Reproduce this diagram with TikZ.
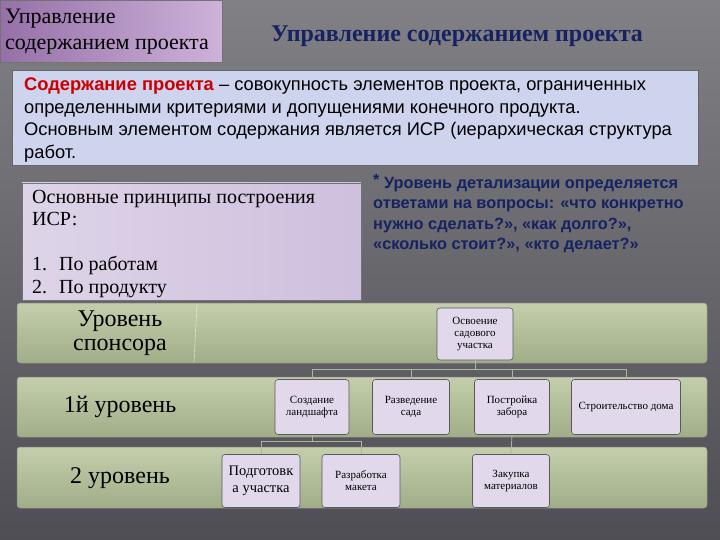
\documentclass[tikz,border=0pt]{standalone}
\usepackage{fontspec}
\setmainfont{Liberation Serif}
\newfontfamily\arialfont{Liberation Sans}
\usetikzlibrary{calc}

\definecolor{bgtop}{RGB}{128,128,133}
\definecolor{bgbot}{RGB}{78,78,84}
\definecolor{hdrleft}{RGB}{150,112,168}
\definecolor{hdrright}{RGB}{205,178,218}
\definecolor{navy}{RGB}{22,34,98}
\definecolor{defblue}{RGB}{206,211,238}
\definecolor{lilac}{RGB}{222,212,232}
\definecolor{lilacdark}{RGB}{206,192,222}
\definecolor{bandtop}{RGB}{196,206,172}
\definecolor{bandbot}{RGB}{160,174,136}
\definecolor{boxfill}{RGB}{226,216,236}
\definecolor{wire}{RGB}{170,182,160}

\tikzset{
	wbsbox/.style={draw=black!65, fill=boxfill, rounded corners=3pt, line width=0.6pt,
		align=center, inner sep=1pt, font=\fontsize{11}{12}\selectfont},
	wbs/.style={draw=wire, line width=0.8pt},
	band/.style={draw=black!45, line width=0.5pt, rounded corners=3pt, top color=bandtop, bottom color=bandbot},
	lvlname/.style={align=center, font=\fontsize{24}{24}\selectfont}
}

\begin{document}
\begin{tikzpicture}[x=1pt, y=-1pt]
	%%%%% START %%%%%
	
	\shade[top color=bgtop, bottom color=bgbot] (0,0) rectangle (720,540);
	\useasboundingbox (0,0) rectangle (720,540);
	
	% header
	\shade[left color=hdrleft, right color=hdrright, draw=black!55] (0,0) rectangle (222,62);
	\node[anchor=north west, align=left, inner sep=0pt, font=\fontsize{22}{26}\selectfont] (hdr) at (5,9) {Управление\\содержанием проекта};
	\node[text=navy, font=\fontsize{24}{26}\bfseries\selectfont] (title) at (457,36) {Управление содержанием проекта};
	
	% definition
	\draw[fill=defblue, draw=black!60] (12,70) rectangle (698,165);
	\node[anchor=north west, align=left, inner sep=0pt, font=\arialfont\fontsize{18.3}{22.5}\selectfont] (defbox) at (24,78)
		{\textcolor{red!80!black}{\textbf{Содержание проекта}} – совокупность элементов проекта, ограниченных\\
		определенными критериями и допущениями конечного продукта.\\
		Основным элементом содержания является ИСР (иерархическая структура\\
		работ.};
	
	% principles
	\shade[left color=lilac, right color=lilacdark, draw=black!55] (22,183) rectangle (361,300);
	\node[anchor=north west, align=left, inner sep=0pt, font=\fontsize{20}{22}\selectfont] (prin) at (32,190)
		{Основные принципы построения\\ИСР:};
	\node[anchor=north west, align=left, inner sep=0pt, font=\fontsize{20}{23}\selectfont] (prinlist) at (32,256)
		{1.\hspace{0.6em}По работам\\2.\hspace{0.6em}По продукту};
	
	% note
	\node[anchor=north west, align=left, inner sep=0pt, text=navy, font=\arialfont\fontsize{16.3}{20.5}\bfseries\selectfont] (note) at (373,174)
		{\raisebox{3pt}{*} Уровень детализации определяется\\
		ответами на вопросы: «что конкретно\\
		нужно сделать?», «как долго?»,\\
		«сколько стоит?», «кто делает?»};
	
	% levels
	\draw[band] (17,303) rectangle (707,363);
	\draw[band] (17,377) rectangle (707,437);
	\draw[band] (17,447) rectangle (707,508);
	\draw[white!75!bandbot, line width=0.4pt] (197,303) -- (194,363);
	
	\node[lvlname] (lvl0) at (120,333) {Уровень\\спонсора};
	\node[lvlname] (lvl1) at (120,407) {1й уровень};
	\node[lvlname] (lvl2) at (120,478) {2 уровень};
	
	% wbs
	\node[wbsbox, minimum width=76pt, minimum height=52pt] (root) at (475,334) {Освоение\\садового\\участка};
	
	\node[wbsbox, minimum width=74pt, minimum height=55pt] (land) at (312,407) {Создание\\ландшафта};
	\node[wbsbox, minimum width=77pt, minimum height=55pt] (garden) at (411,407) {Разведение\\сада};
	\node[wbsbox, minimum width=75pt, minimum height=55pt] (fence) at (512,407) {Постройка\\забора};
	\node[wbsbox, minimum width=109pt, minimum height=55pt] (house) at (626,407) {Строительство дома};
	
	\node[wbsbox, minimum width=78pt, minimum height=53pt, font=\fontsize{14.5}{17}\selectfont] (prep) at (261,481) {Подготовк\\а участка};
	\node[wbsbox, minimum width=78pt, minimum height=53pt] (maket) at (361,481) {Разработка\\макета};
	\node[wbsbox, minimum width=77pt, minimum height=53pt] (buy) at (511,481) {Закупка\\материалов};
	
	\foreach \kid in {land,garden,fence,house}
		\draw[wbs] (root.south) -- ++(0,9) -| (\kid.north);
	\foreach \kid in {prep,maket}
		\draw[wbs] (land.south) -- ++(0,7) -| (\kid.north);
	\draw[wbs] (fence.south) -- (buy.north);
	
	%%%%% END %%%%%
\end{tikzpicture}
\end{document}
